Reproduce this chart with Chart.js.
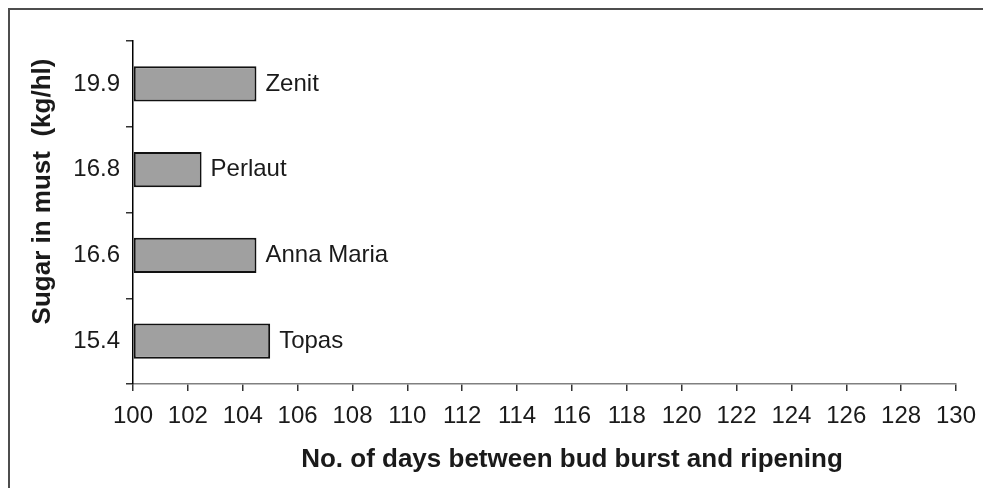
<!DOCTYPE html>
<html>
<head>
<meta charset="utf-8">
<script src="https://cdn.jsdelivr.net/npm/chart.js@4/dist/chart.umd.min.js"></script>
<style>
  html, body { margin: 0; padding: 0; background: #fff; overflow: hidden; }
  #wrap { position: relative; width: 983px; height: 488px; overflow: hidden; }
  #frame { position: absolute; left: 8px; top: 8px; width: 1200px; height: 800px; border: 2px solid #4d4d4d; }
  #chart { position: absolute; left: 0; top: 0; }
</style>
</head>
<body>
<div id="wrap">
  <div id="frame"></div>
  <canvas id="chart" width="983" height="488"></canvas>
</div>
<script>
const sugarLabels = ['19.9', '16.8', '16.6', '15.4'];
const varieties = ['Zenit', 'Perlaut', 'Anna Maria', 'Topas'];
const ripeningDays = [104.5, 102.5, 104.5, 105];

const xMin = 100;
const xMax = 130;
const xStep = 2;

const xTitle = 'No. of days between bud burst and ripening';
const yTitle = 'Sugar in must  (kg/hl)';

const FONT = "'Liberation Sans', Arial, sans-serif";

// names written right of each bar
const barNames = {
  id: 'barNames',
  afterDatasetsDraw(chart) {
    const ctx = chart.ctx;
    const meta = chart.getDatasetMeta(0);
    ctx.save();
    ctx.font = '24px ' + FONT;
    ctx.fillStyle = '#1a1a1a';
    ctx.textAlign = 'left';
    ctx.textBaseline = 'middle';
    meta.data.forEach((bar, i) => {
      ctx.fillText(varieties[i], bar.x + 9, bar.y);
    });
    ctx.restore();
  }
};

// axis titles (they sit off-centre in the original)
const axisTitles = {
  id: 'axisTitles',
  afterDraw(chart) {
    const ctx = chart.ctx;
    ctx.save();
    ctx.font = 'bold 26px ' + FONT;
    ctx.fillStyle = '#1a1a1a';
    ctx.textAlign = 'center';
    ctx.textBaseline = 'alphabetic';
    ctx.fillText(xTitle, 572, 467);
    ctx.translate(50, 191.5);
    ctx.rotate(-Math.PI / 2);
    ctx.fillText(yTitle, 0, 0);
    ctx.restore();
  }
};

new Chart(document.getElementById('chart'), {
  type: 'bar',
  data: {
    labels: sugarLabels,
    datasets: [{
      data: ripeningDays,
      base: xMin,
      backgroundColor: '#a0a0a0',
      borderColor: '#111111',
      borderWidth: 2,
      borderSkipped: false,
      barPercentage: 0.41,
      categoryPercentage: 1,
    }],
  },
  options: {
    indexAxis: 'y',
    responsive: false,
    animation: false,
    devicePixelRatio: 1,
    layout: {
      padding: { top: 41, right: 27, bottom: 0, left: 0 },
    },
    scales: {
      x: {
        min: xMin,
        max: xMax,
        afterFit: (s) => {
          s.height = 104;
          s.paddingLeft = 0;
          s.paddingRight = 0;
        },
        ticks: {
          stepSize: xStep,
          color: '#1a1a1a',
          font: { family: FONT, size: 24 },
          padding: 11,
          maxRotation: 0,
        },
        grid: {
          drawOnChartArea: false,
          drawTicks: true,
          tickLength: 7,
          color: '#333333',
          lineWidth: 1.5,
        },
        border: { color: '#808080', width: 1.5 },
      },
      y: {
        afterFit: (s) => { s.width = 133; },
        ticks: {
          color: '#1a1a1a',
          font: { family: FONT, size: 24 },
          padding: 6,
        },
        grid: {
          offset: true,
          drawOnChartArea: false,
          drawTicks: true,
          tickLength: 7,
          color: '#333333',
          lineWidth: 1.5,
        },
        border: { color: '#000000', width: 1.5 },
      },
    },
    plugins: {
      legend: { display: false },
      tooltip: { enabled: false },
    },
  },
  plugins: [barNames, axisTitles],
});
</script>
</body>
</html>
